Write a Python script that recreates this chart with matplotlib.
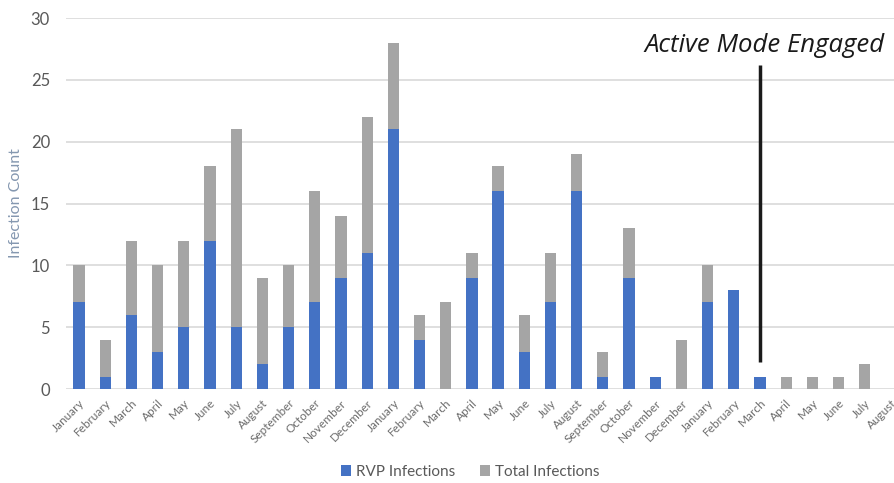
import numpy as np
import matplotlib.pyplot as plt

plt.rcParams['font.family'] = ['Lato', 'DejaVu Sans']

# monthly labels, Jan of year 1 through Aug of year 3
months = ['January', 'February', 'March', 'April', 'May', 'June', 'July',
          'August', 'September', 'October', 'November', 'December',
          'January', 'February', 'March', 'April', 'May', 'June', 'July',
          'August', 'September', 'October', 'November', 'December',
          'January', 'February', 'March', 'April', 'May', 'June', 'July',
          'August']
total = [10, 4, 12, 10, 12, 18, 21, 9, 10, 16, 14, 22,
         28, 6, 7, 11, 18, 6, 11, 19, 3, 13, 1, 4,
         10, 8, 1, 1, 1, 1, 2, 0]
rvp = [7, 1, 6, 3, 5, 12, 5, 2, 5, 7, 9, 11,
       21, 4, 0, 9, 16, 3, 7, 16, 1, 9, 1, 0,
       7, 8, 1, 0, 0, 0, 0, 0]
engaged_idx = 26  # March, when active mode switched on

fig = plt.figure(figsize=(8.95, 4.83), dpi=100)
ax = fig.add_axes([66/895, 94/483, 838/895, 371/483])

x = np.arange(len(months))
w = 0.43
# total bars sit behind, RVP bars drawn over them
ax.bar(x, total, width=w, color='#A5A5A5', label='Total Infections', zorder=2)
ax.bar(x, rvp, width=w, color='#4472C4', label='RVP Infections', zorder=3)

ax.set_xlim(-0.5, len(months) - 0.5)
ax.set_ylim(0, 30)
ax.set_yticks(range(0, 31, 5))
ax.yaxis.grid(True, color='#D9D9D9', linewidth=1.2)
ax.set_axisbelow(True)
for s in ax.spines.values():
    s.set_visible(False)
ax.tick_params(axis='both', length=0)
ax.tick_params(axis='y', labelsize=12, labelcolor='#595959', pad=11.5)
ax.set_xticks(x)
ax.set_xticklabels(months, rotation=45, ha='right', rotation_mode='anchor',
                   fontsize=8.5, color='#6b6b6b')
ax.tick_params(axis='x', pad=6)
ax.set_ylabel('Infection Count', fontsize=11.5, color='#8497B0')
ax.yaxis.set_label_coords(-0.051, 0.5)

# marker for the switch to active mode
ax.plot([engaged_idx, engaged_idx], [2.2, 26.2], color='#1a1a1a', linewidth=2.5,
        zorder=4, solid_capstyle='butt')
fig.text(885/895, 1 - 45/483, 'Active Mode Engaged', fontsize=18.5,
         family=['Open Sans', 'DejaVu Sans'],
         style='italic', ha='right', va='center', color='#1a1a1a')

handles, labels = ax.get_legend_handles_labels()
fig.legend(handles[::-1], labels[::-1], loc='center', ncol=2,
           bbox_to_anchor=(470/895, 1 - 472/483), frameon=False,
           fontsize=11, labelcolor='#595959', handlelength=0.7,
           handleheight=0.7, handletextpad=0.3, columnspacing=1.6)

fig.savefig('out.png', dpi=100)
